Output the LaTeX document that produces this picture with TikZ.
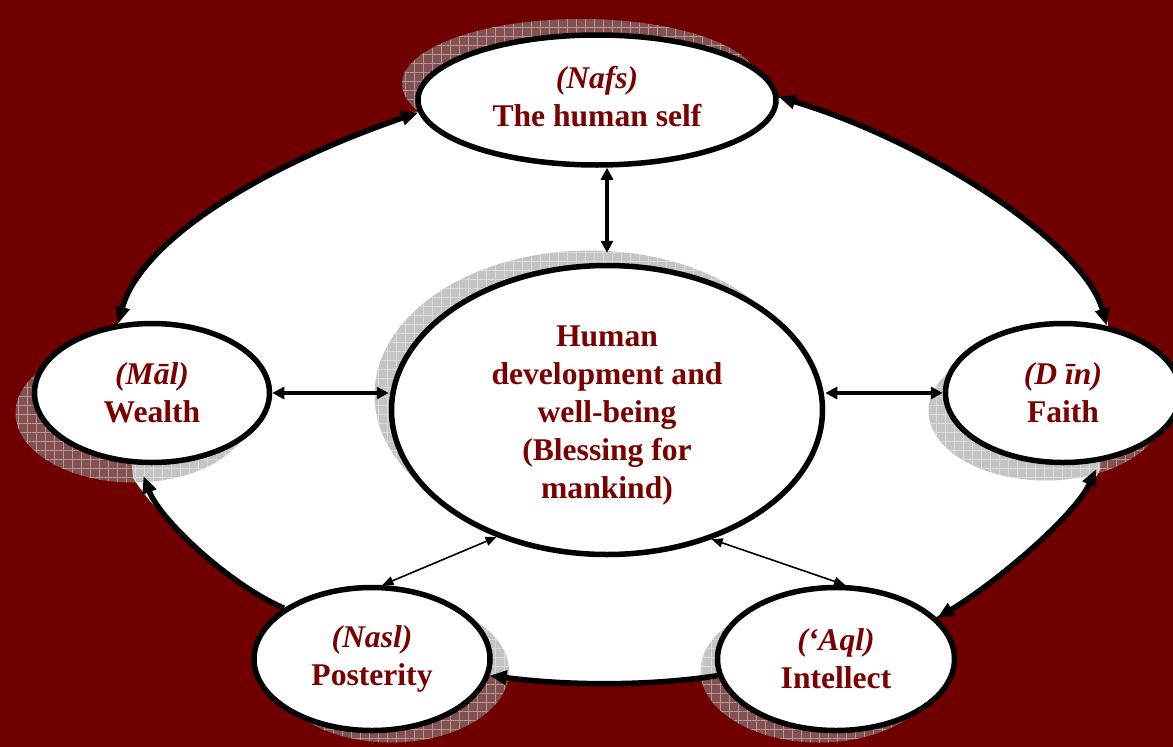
\documentclass[tikz,border=0pt]{standalone}
\usepackage{fontspec}
\setmainfont{Liberation Serif}
\usetikzlibrary{arrows.meta,shapes.geometric,shadows,patterns.meta}
\definecolor{bgred}{RGB}{112,0,0}
\definecolor{txtred}{RGB}{122,0,0}
\begin{document}
\begin{tikzpicture}[x=1pt,y=-1pt,
  bub/.style={ellipse,draw=black,line width=5.5pt,fill=white,inner sep=0pt},
  shd/.style n args={2}{general shadow={shadow xshift=#1,shadow yshift=#2,fill=black!42,opacity=.55},
     general shadow={shadow xshift=#1,shadow yshift=#2,pattern={Hatch[angle=0,distance=9pt,line width=.6pt]},pattern color=white,opacity=.4}},
  lbl/.style={text=txtred,font=\fontsize{31.6}{38}\selectfont\bfseries,align=center,inner sep=0pt},
  bigboth/.style={line width=5.5pt,>={Triangle[length=17pt,width=14pt]},<->},
  bigone/.style={line width=5.5pt,>={Triangle[length=17pt,width=14pt]},->},
  spk/.style={line width=3.5pt,>={Triangle[length=12pt,width=12pt]},<->},
  thinspk/.style={line width=1.6pt,>={Triangle[length=11pt,width=9pt]},<->}]
\useasboundingbox (0,0) rectangle (1173,747);
\fill[bgred] (0,0) rectangle (1173,747);
% white field bounded by the ring of arcs
\fill[white] (412,112) .. controls (262,166) and (140,241) .. (118,323) -- (133,478)
  .. controls (160,520) and (230,585) .. (283,609) -- (497,677)
  .. controls (570,686) and (650,686) .. (715,677) -- (936,617)
  .. controls (1000,580) and (1075,515) .. (1100,470) -- (1108,323)
  .. controls (1085,245) and (932,143) .. (782,98) -- cycle;
% nodes
\node[bub,shd={-16pt}{16pt},minimum width=358pt,minimum height=130pt] (nafs) at (597,100) {};
\node[bub,shd={-17pt}{15pt},minimum width=431pt,minimum height=289pt] (hub) at (607,410) {};
\node[bub,shd={-19pt}{-20pt},minimum width=235pt,minimum height=139pt] (mal) at (152,393) {};
\node[bub,shd={-17pt}{-18pt},minimum width=235pt,minimum height=139pt] (din) at (1063,393) {};
\node[bub,shd={19pt}{-12pt},minimum width=236pt,minimum height=143pt] (nasl) at (372,659) {};
\node[bub,shd={-17pt}{-12pt},minimum width=237pt,minimum height=143pt] (aql) at (836,659) {};
% labels
\node[lbl] (nafsT) at ([yshift=3pt]nafs) {{\itshape (Nafs)}\\The human self};
\node[lbl] (hubT) at ([yshift=-6pt]hub) {Human\\development and\\well-being\\(Blessing for\\mankind)};
\node[lbl] (malT) at (mal) {{\itshape (Māl)}\\Wealth};
\node[lbl] (dinT) at (din) {{\itshape (D īn)}\\Faith};
\node[lbl] (naslT) at (nasl) {{\itshape (Nasl)}\\Posterity};
\node[lbl] (aqlT) at (aql) {{\itshape (‘Aql)}\\Intellect};
% ring arcs
\draw[bigboth] (nafs.184) .. controls (262,166) and (140,241) .. (mal.116);
\draw[bigboth] (nafs.1) .. controls (932,143) and (1085,245) .. (din.57);
\draw[bigboth,shorten <=8pt] (din.-62) .. controls (1075,515) and (1000,580) .. (aql.22);
\draw[bigone] (aql.188) .. controls (650,686) and (570,686) .. (nasl.-8);
\draw[bigone,shorten >=12pt] (nasl.150) .. controls (230,585) and (160,520) .. (mal.-100);
% spokes
\draw[spk,shorten >=10pt] (nafs.south -| hub.north) -- (hub.north);
\draw[spk] (mal.east) -- (mal.east -| hub.west);
\draw[spk] (hub.east |- din.west) -- (din.west);
\draw[thinspk] (hub.229) -- (nasl.82);
\draw[thinspk] (hub.-51) -- (aql.83);
\end{tikzpicture}
\end{document}
